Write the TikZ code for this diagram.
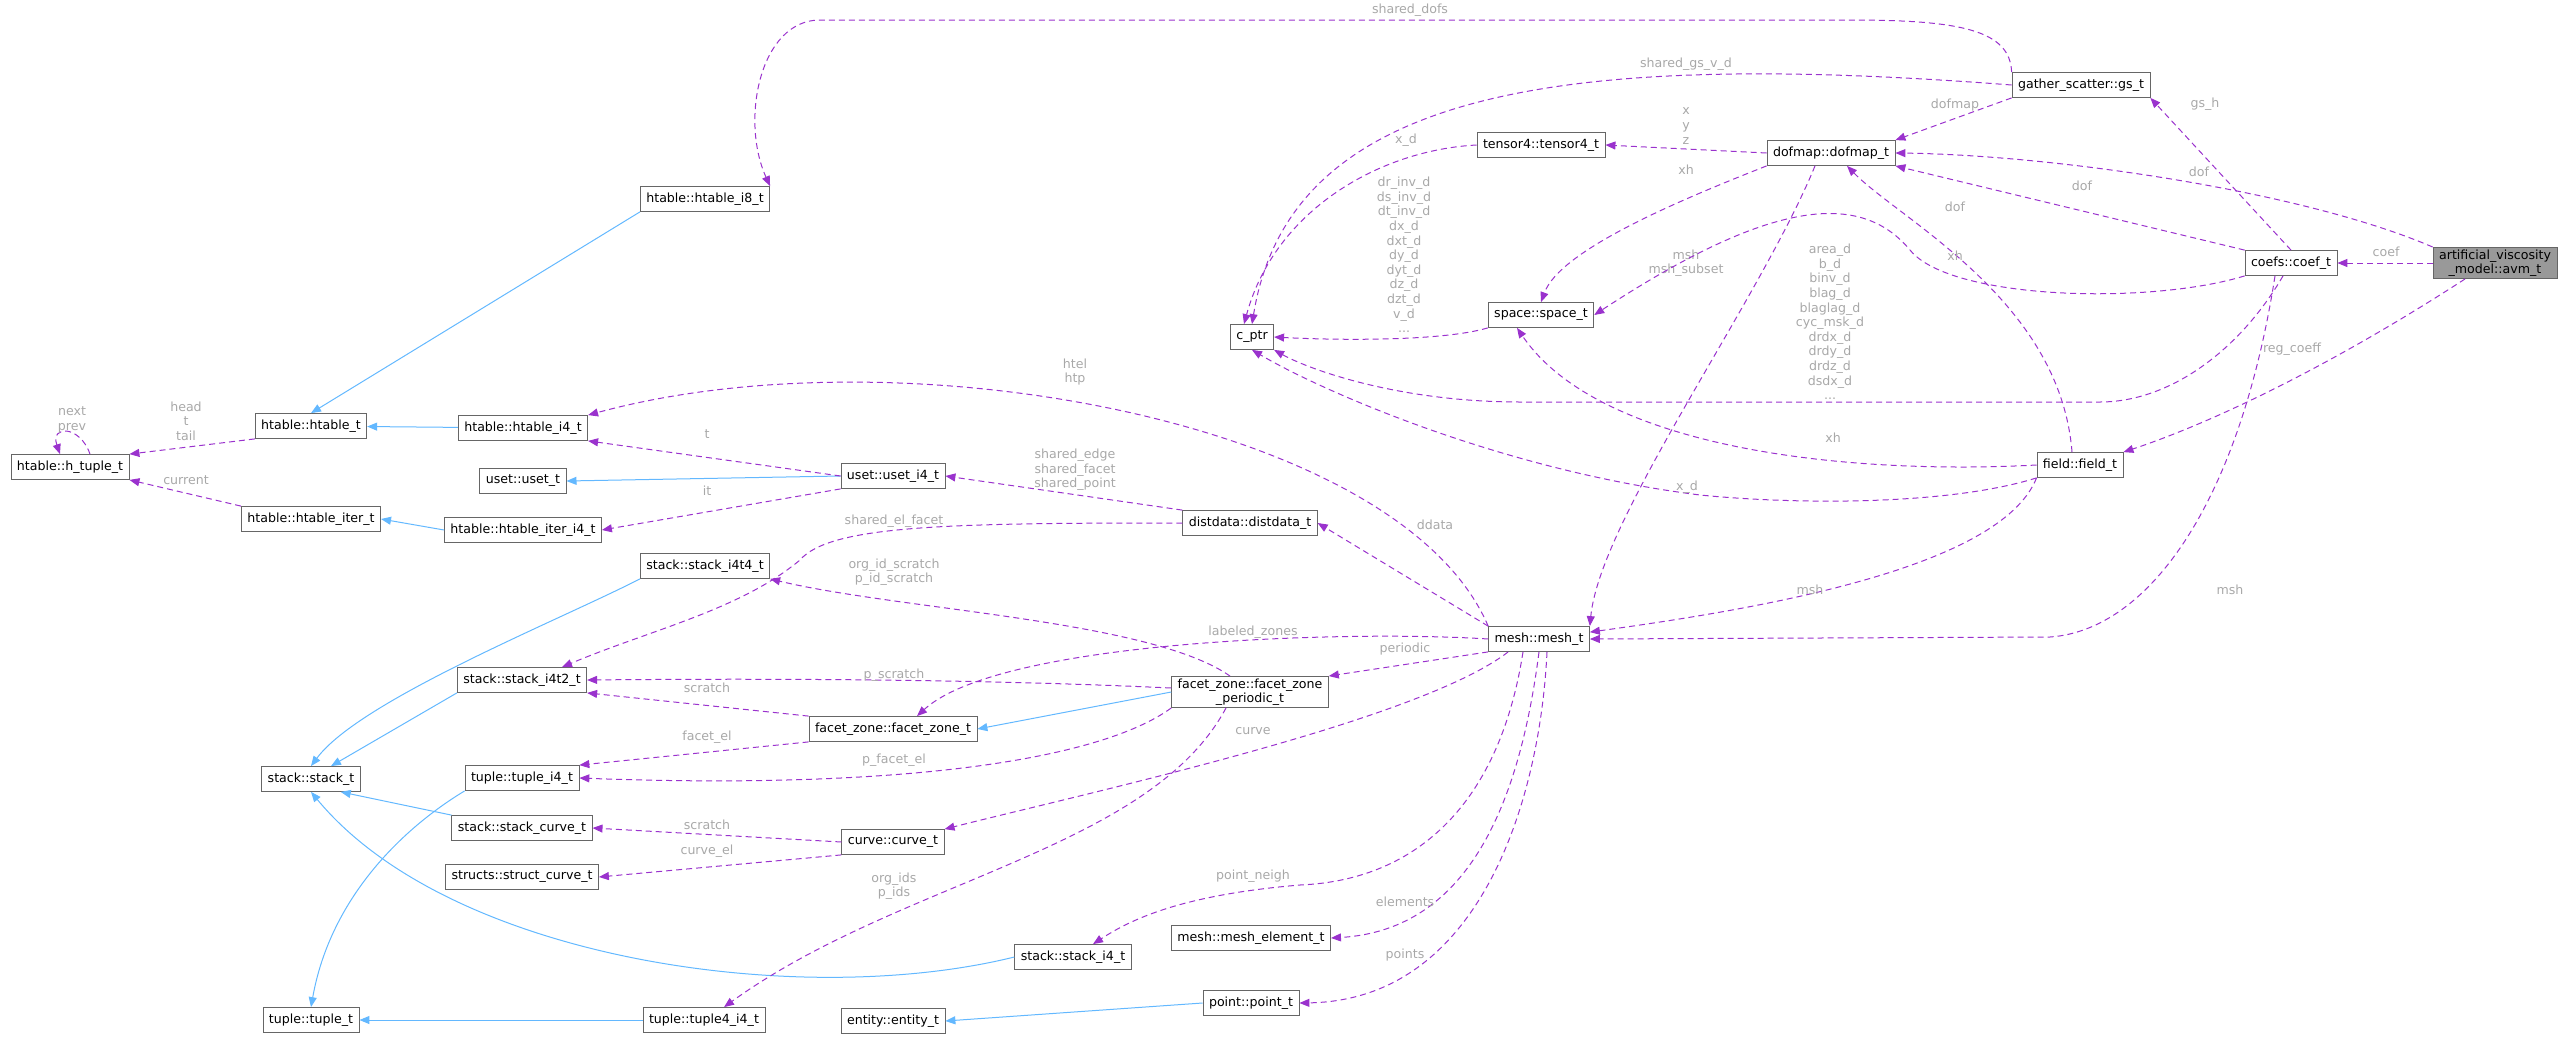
\documentclass[tikz,border=0pt]{standalone}
\usepackage{fontspec}
\setmainfont{DejaVu Sans}
\usetikzlibrary{arrows.meta}
\definecolor{refcol}{HTML}{9A32CD}
\definecolor{inhcol}{HTML}{63B8FF}
\definecolor{lblcol}{HTML}{A8A8A8}
\definecolor{boxcol}{HTML}{666666}
\begin{document}
\begin{tikzpicture}[
    x=0.5pt, y=-0.5pt,
    cls/.style = {draw=boxcol, fill=white, font=\fontsize{6.3}{7.3}\selectfont, minimum height=12.5pt, inner xsep=3pt, inner ysep=1pt, align=center},
    main/.style = {cls, fill=black!40},
    lbl/.style = {text=lblcol, font=\fontsize{6.3}{7.3}\selectfont, align=center, inner sep=0pt},
    ref/.style = {draw=refcol, dash pattern=on 3pt off 2pt, line width=0.5pt, -{Triangle[length=5pt,width=4pt,fill=refcol,sep=0pt]}},
    inh/.style = {draw=inhcol, line width=0.5pt, -{Triangle[length=5pt,width=4pt,fill=inhcol]}}
  ]
  \useasboundingbox (0,0) rectangle (2571,1039);

  % classes
  \node[main] (avm) at (2495,263) {artificial\_viscosity\\\_model::avm\_t};
  \node[cls] (coef) at (2291,263) {coefs::coef\_t};
  \node[cls] (gs) at (2081,85) {gather\_scatter::gs\_t};
  \node[cls] (dofmap) at (1831,153) {dofmap::dofmap\_t};
  \node[cls] (tensor) at (1541,145) {tensor4::tensor4\_t};
  \node[cls] (space) at (1541,315) {space::space\_t};
  \node[cls] (cptr) at (1252,337) {c\_ptr};
  \node[cls] (field) at (2080,465) {field::field\_t};
  \node[cls] (mesh) at (1539,639) {mesh::mesh\_t};
  \node[cls] (htab8) at (705,199) {htable::htable\_i8\_t};
  \node[cls] (htab) at (311,426) {htable::htable\_t};
  \node[cls] (htup) at (70,467) {htable::h\_tuple\_t};
  \node[cls] (htab4) at (523,428) {htable::htable\_i4\_t};
  \node[cls] (uset) at (523,481) {uset::uset\_t};
  \node[cls] (uset4) at (893,476) {uset::uset\_i4\_t};
  \node[cls] (hiter) at (311,519) {htable::htable\_iter\_t};
  \node[cls] (hiter4) at (523,530) {htable::htable\_iter\_i4\_t};
  \node[cls] (ddata) at (1250,523) {distdata::distdata\_t};
  \node[cls] (st4t4) at (705,566) {stack::stack\_i4t4\_t};
  \node[cls] (st4t2) at (522,680) {stack::stack\_i4t2\_t};
  \node[cls] (fzper) at (1250,692) {facet\_zone::facet\_zone\\\_periodic\_t};
  \node[cls] (fzone) at (893,729) {facet\_zone::facet\_zone\_t};
  \node[cls] (stack) at (311,779) {stack::stack\_t};
  \node[cls] (tup4) at (522,778) {tuple::tuple\_i4\_t};
  \node[cls] (stcrv) at (522,828) {stack::stack\_curve\_t};
  \node[cls] (curve) at (893,842) {curve::curve\_t};
  \node[cls] (scrv) at (522,877) {structs::struct\_curve\_t};
  \node[cls] (melem) at (1251,938) {mesh::mesh\_element\_t};
  \node[cls] (st4) at (1073,957) {stack::stack\_i4\_t};
  \node[cls] (point) at (1251,1003) {point::point\_t};
  \node[cls] (entity) at (893,1021) {entity::entity\_t};
  \node[cls] (t4i4) at (704,1020) {tuple::tuple4\_i4\_t};
  \node[cls] (tuple) at (311,1020) {tuple::tuple\_t};

  % inheritance
  \draw[inh] (htab8.south west) -- (htab.north);
  \draw[inh] (htab4) -- (htab);
  \draw[inh] (uset4.west) -- (uset.east);
  \draw[inh] (hiter4.west) -- (hiter.east);
  \draw[inh] (st4t4.south west) .. controls (560,620) and (360,700) .. (stack.north);
  \draw[inh] (st4t2.south west) -- ([xshift=10pt]stack.north);
  \draw[inh] (stcrv.north west) -- ([xshift=-10pt]stack.south east);
  \draw[inh] (st4.west) .. controls (800,1010) and (450,960) .. (stack.south);
  \draw[inh] (tup4.south west) .. controls (400,830) and (330,900) .. (tuple.north);
  \draw[inh] (t4i4.west) -- (tuple.east);
  \draw[inh] (point.west) -- (entity.east);
  \draw[inh] (fzper.west) -- (fzone.east);

  % references
  \draw[ref] (gs.north west) .. controls (2010,30) and (1960,20) .. (1850,20) -- (820,20) .. controls (760,20) and (740,120) .. (htab8.north east);
  \node[lbl] (l1) at (1410,10) {shared\_dofs};
  \draw[ref] (gs.west) .. controls (1560,50) and (1290,90) .. (cptr.north);
  \node[lbl] (l2) at (1686,64) {shared\_gs\_v\_d};
  \draw[ref] (gs.south west) -- (dofmap.north east);
  \node[lbl] (l3) at (1955,105) {dofmap};
  \draw[ref] (coef.north) -- (gs.south east);
  \node[lbl] (l4) at (2205,104) {gs\_h};
  \draw[ref] (dofmap.west) -- (tensor.east);
  \node[lbl] (l5) at (1686,126) {x\\y\\z};
  \draw[ref] (tensor.west) .. controls (1380,150) and (1275,210) .. ([xshift=-4pt]cptr.north);
  \node[lbl] (l6) at (1406,140) {x\_d};
  \draw[ref] (dofmap.south west) .. controls (1680,200) and (1560,250) .. (space.north);
  \node[lbl] (l7) at (1686,170) {xh};
  \draw[ref] ([xshift=-8pt]dofmap.south) .. controls (1760,300) and (1600,520) .. (mesh.north east);
  \node[lbl] (l8) at (1686,263) {msh\\msh\_subset};
  \draw[ref] (space.south west) .. controls (1440,342) and (1330,340) .. (cptr.east);
  \node[lbl] (l9) at (1404,255) {dr\_inv\_d\\ds\_inv\_d\\dt\_inv\_d\\dx\_d\\dxt\_d\\dy\_d\\dyt\_d\\dz\_d\\dzt\_d\\v\_d\\...};
  \draw[ref] (coef.north west) -- (dofmap.south east);
  \node[lbl] (l10) at (2082,186) {dof};
  \draw[ref] (avm.north west) .. controls (2300,190) and (2050,155) .. (dofmap.east);
  \node[lbl] (l11) at (2199,172) {dof};
  \draw[ref] ([xshift=-4pt]field.north) .. controls (2060,300) and (1900,220) .. ([xshift=8pt]dofmap.south);
  \node[lbl] (l12) at (1955,207) {dof};
  \draw[ref] (coef.south west) .. controls (2150,305) and (1950,300) .. (1910,250) .. controls (1860,190) and (1770,200) .. (space.east);
  \node[lbl] (l13) at (1955,256) {xh};
  \draw[ref] ([xshift=-4pt]coef.south) .. controls (2240,350) and (2170,402) .. (2100,402) -- (1520,402) .. controls (1400,402) and (1310,370) .. (cptr.south east);
  \node[lbl] (l14) at (1830,322) {area\_d\\b\_d\\binv\_d\\blag\_d\\blaglag\_d\\cyc\_msk\_d\\drdx\_d\\drdy\_d\\drdz\_d\\dsdx\_d\\...};
  \draw[ref] (field.west) .. controls (1850,475) and (1600,450) .. ([xshift=-12pt]space.south);
  \node[lbl] (l15) at (1833,438) {xh};
  \draw[ref] (field.south west) .. controls (1950,505) and (1800,505) .. (1700,495) .. controls (1500,470) and (1320,390) .. (cptr.south);
  \node[lbl] (l16) at (1687,487) {x\_d};
  \draw[ref] (avm.west) -- (coef.east);
  \node[lbl] (l17) at (2386,252) {coef};
  \draw[ref] ([xshift=-15pt]avm.south) .. controls (2340,360) and (2220,420) .. (field.north east);
  \node[lbl] (l18) at (2292,349) {reg\_coeff};
  \draw[ref] ([xshift=-8pt]coef.south) .. controls (2240,500) and (2150,630) .. (2050,637) -- (mesh.east);
  \node[lbl] (l19) at (2230,590) {msh};
  \draw[ref] (field.south west) .. controls (2000,570) and (1750,610) .. ([yshift=-3pt]mesh.north east);
  \node[lbl] (l20) at (1810,590) {msh};
  \draw[ref] (mesh.north west) .. controls (1400,420) and (900,330) .. (htab4.north east);
  \node[lbl] (l21) at (1075,372) {htel\\htp};
  \draw[ref] (mesh.north west) -- (ddata.east);
  \node[lbl] (l22) at (1435,525) {ddata};
  \draw[ref] (mesh.west) .. controls (1350,630) and (1000,640) .. ([xshift=12pt]fzone.north);
  \node[lbl] (l23) at (1253,632) {labeled\_zones};
  \draw[ref] (mesh.south west) -- (fzper.north east);
  \node[lbl] (l24) at (1405,649) {periodic};
  \draw[ref] ([xshift=10pt]mesh.south west) .. controls (1420,720) and (1100,790) .. (curve.north east);
  \node[lbl] (l25) at (1253,731) {curve};
  \draw[ref] ([xshift=-8pt]mesh.south) .. controls (1500,800) and (1420,880) .. (1300,885) .. controls (1180,895) and (1130,920) .. ([xshift=10pt]st4.north);
  \node[lbl] (l26) at (1253,876) {point\_neigh};
  \draw[ref] (mesh.south) .. controls (1520,800) and (1470,930) .. (melem.east);
  \node[lbl] (l27) at (1405,902) {elements};
  \draw[ref] ([xshift=4pt]mesh.south) .. controls (1540,800) and (1480,1000) .. (point.east);
  \node[lbl] (l28) at (1405,955) {points};
  \draw[ref] (uset4.west) -- (htab4.south east);
  \node[lbl] (l29) at (707,434) {t};
  \draw[ref] (uset4.south west) -- (hiter4.east);
  \node[lbl] (l30) at (707,491) {it};
  \draw[ref] (ddata.north west) -- (uset4.east);
  \node[lbl] (l31) at (1075,470) {shared\_edge\\shared\_facet\\shared\_point};
  \draw[ref] (ddata.west) .. controls (950,523) and (830,525) .. (800,560) .. controls (740,610) and (650,630) .. ([xshift=20pt]st4t2.north);
  \node[lbl] (l32) at (894,521) {shared\_el\_facet};
  \draw[ref] (htab.south west) -- (htup.north east);
  \node[lbl] (l33) at (186,421) {head\\t\\tail};
  \draw[ref] ([xshift=10pt]htup.north) .. controls (80,425) and (50,425) .. ([xshift=-5pt]htup.north);
  \node[lbl] (l34) at (72,420) {next\\prev};
  \draw[ref] (hiter.north west) -- (htup.south east);
  \node[lbl] (l35) at (186,480) {current};
  \draw[ref] ([xshift=-10pt]fzper.north) .. controls (1150,620) and (900,610) .. (st4t4.south east);
  \node[lbl] (l36) at (894,572) {org\_id\_scratch\\p\_id\_scratch};
  \draw[ref] ([yshift=2pt]fzper.west) .. controls (1000,680) and (800,678) .. (st4t2.east);
  \node[lbl] (l37) at (894,675) {p\_scratch};
  \draw[ref] (fzone.north west) -- (st4t2.south east);
  \node[lbl] (l38) at (707,688) {scratch};
  \draw[ref] (fzone.south west) -- (tup4.north east);
  \node[lbl] (l39) at (707,737) {facet\_el};
  \draw[ref] (fzper.south west) .. controls (1100,760) and (900,790) .. (tup4.east);
  \node[lbl] (l40) at (894,760) {p\_facet\_el};
  \draw[ref] ([xshift=-12pt]fzper.south) .. controls (1150,850) and (900,880) .. ([xshift=10pt]t4i4.north);
  \node[lbl] (l41) at (894,886) {org\_ids\\p\_ids};
  \draw[ref] (curve.west) -- (stcrv.east);
  \node[lbl] (l42) at (707,825) {scratch};
  \draw[ref] (curve.south west) -- (scrv.east);
  \node[lbl] (l43) at (707,851) {curve\_el};

\end{tikzpicture}
\end{document}
